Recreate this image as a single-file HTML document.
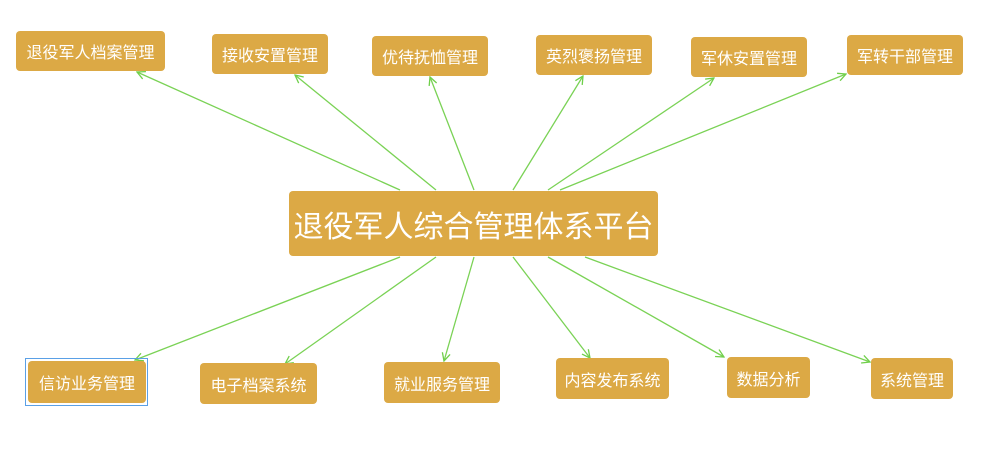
<!DOCTYPE html>
<html><head><meta charset="utf-8"><style>
body{margin:0;width:1000px;height:467px;background:#fff;position:relative;overflow:hidden;font-family:"Liberation Sans","Noto Sans CJK SC",sans-serif}
.b{position:absolute;background:#dca945;color:#fff;border-radius:4px;display:flex;align-items:center;justify-content:center;font-size:16px;white-space:nowrap}
svg{position:absolute;left:0;top:0}
</style></head><body>
<svg width="1000" height="467">
<defs><marker id="a" markerWidth="10" markerHeight="10" refX="9" refY="5" orient="auto" markerUnits="userSpaceOnUse"><path d="M1,1 L9,5 L1,9" fill="none" stroke="#6fcf4a" stroke-width="1.3"/></marker></defs>
<g stroke="#7ad255" stroke-width="1.3" fill="none" marker-end="url(#a)">
<line x1="400" y1="190" x2="137" y2="72"/>
<line x1="436" y1="190" x2="295" y2="75"/>
<line x1="474" y1="190" x2="430" y2="77"/>
<line x1="513" y1="190" x2="583" y2="76"/>
<line x1="548" y1="190" x2="714" y2="78"/>
<line x1="560" y1="190" x2="846" y2="74"/>
<line x1="400" y1="257" x2="135" y2="360"/>
<line x1="436" y1="257" x2="285" y2="364"/>
<line x1="474" y1="257" x2="444" y2="361"/>
<line x1="513" y1="257" x2="590" y2="358"/>
<line x1="548" y1="257" x2="724" y2="357"/>
<line x1="585" y1="257" x2="870" y2="362"/>
</g></svg>
<div class="b" style="left:16px;top:31px;width:149px;height:40px">退役军人档案管理</div>
<div class="b" style="left:212px;top:34px;width:116px;height:40px">接收安置管理</div>
<div class="b" style="left:372px;top:36px;width:116px;height:40px">优待抚恤管理</div>
<div class="b" style="left:536px;top:35px;width:116px;height:40px">英烈褒扬管理</div>
<div class="b" style="left:691px;top:37px;width:116px;height:40px">军休安置管理</div>
<div class="b" style="left:847px;top:35px;width:116px;height:40px">军转干部管理</div>
<div class="b" style="left:289px;top:191px;width:369px;height:65px;font-size:30px">退役军人综合管理体系平台</div>
<div style="position:absolute;left:25px;top:358px;width:121px;height:46px;border:1px solid #5aa0e6"></div>
<div class="b" style="left:28px;top:361px;width:118px;height:42px">信访业务管理</div>
<div class="b" style="left:200px;top:363px;width:117px;height:41px">电子档案系统</div>
<div class="b" style="left:384px;top:362px;width:116px;height:41px">就业服务管理</div>
<div class="b" style="left:556px;top:358px;width:113px;height:41px">内容发布系统</div>
<div class="b" style="left:727px;top:357px;width:83px;height:41px">数据分析</div>
<div class="b" style="left:871px;top:358px;width:82px;height:41px">系统管理</div>
</body></html>
